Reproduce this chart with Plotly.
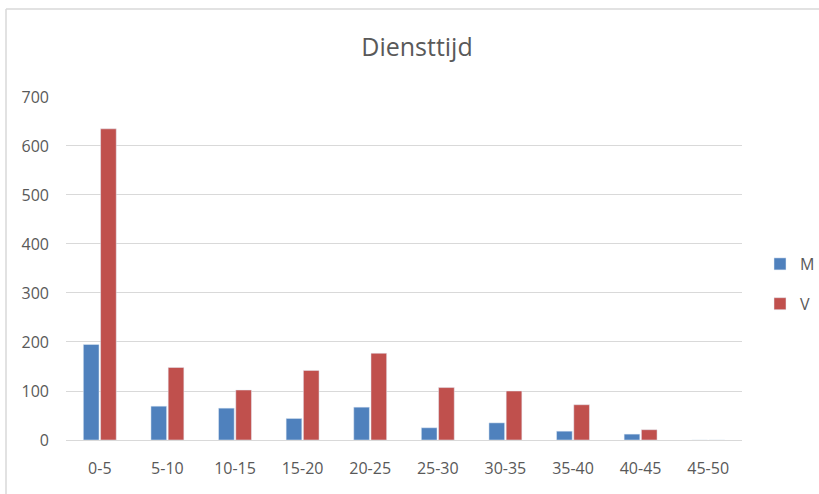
import plotly.graph_objects as go

categories = ["0-5", "5-10", "10-15", "15-20", "20-25", "25-30", "30-35", "35-40", "40-45", "45-50"]
m_values = [195, 69, 65, 44, 67, 25, 35, 18, 12, 0]
v_values = [635, 148, 102, 142, 177, 107, 100, 72, 21, 0]
y_ticks = [0, 100, 200, 300, 400, 500, 600, 700]

FONT = "Open Sans"
GREY = "#595959"
GRID = "#d9d9d9"

fig = go.Figure()
fig.add_trace(go.Bar(name="M", x=categories, y=m_values, marker_color="#4F81BD",
                     legendgroup="m"))
fig.add_trace(go.Bar(name="V", x=categories, y=v_values, marker_color="#C0504D",
                     legendgroup="v"))

W, H = 819, 494
L, R, T, B = 66, 77, 96, 54
pw = W - L - R
ph = H - T - B

def px_x(x):
    return (x - L) / pw

def px_y(y):
    return (H - B - y) / ph

fig.update_layout(
    width=W, height=H,
    margin=dict(l=L, r=R, t=T, b=B, autoexpand=False),
    paper_bgcolor="white", plot_bgcolor="white",
    barmode="group", bargap=0.49, bargroupgap=0.09,
    font=dict(family=FONT, color=GREY),
    title=dict(text="Diensttijd", xref="container", x=417 / W, xanchor="center",
               y=1 - 47 / H, yanchor="middle",
               font=dict(size=25, color=GREY, family=FONT)),
    legend=dict(x=px_x(760), xanchor="left", y=px_y(284), yanchor="middle",
                font=dict(size=16, color=GREY), tracegroupgap=16,
                itemwidth=30, bgcolor="rgba(0,0,0,0)"),
    showlegend=True,
    xaxis=dict(showgrid=False, showline=False, ticks="",
               tickfont=dict(size=16, color=GREY), ticklabelstandoff=17),
    yaxis=dict(range=[0, 702], tickvals=y_ticks, showgrid=True, gridcolor=GRID,
               gridwidth=1, zeroline=True, zerolinecolor=GRID, zerolinewidth=1,
               showline=False, ticks="", tickfont=dict(size=16, color=GREY),
               ticklabelstandoff=16),
    shapes=[
        dict(type="line", xref="paper", yref="paper",
             x0=px_x(6), x1=px_x(6), y0=px_y(H + 10), y1=px_y(9),
             line=dict(color=GRID, width=1.5)),
        dict(type="line", xref="paper", yref="paper",
             x0=px_x(6), x1=px_x(W + 10), y0=px_y(9), y1=px_y(9),
             line=dict(color=GRID, width=1.5)),
    ],
)

fig.write_html("out.html",
               config={"displayModeBar": False},
               post_script="document.body.style.margin='0';document.body.style.overflow='hidden';")
